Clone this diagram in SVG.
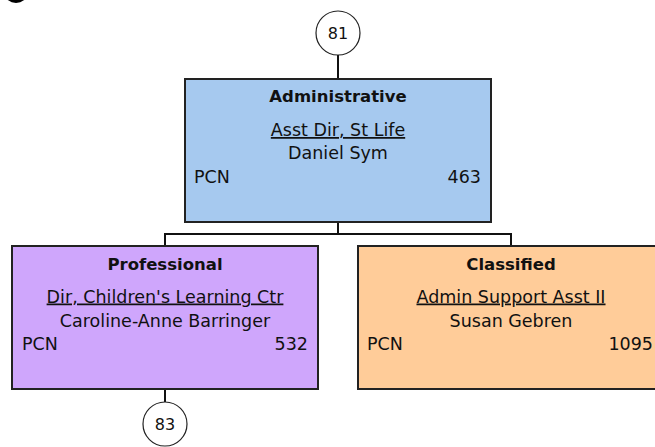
<svg xmlns="http://www.w3.org/2000/svg" width="655" height="447" viewBox="0 0 655 447">
<style>
.box{stroke:#222;stroke-width:2}
.c{fill:#fff;stroke:#222;stroke-width:1.2}
.ln{stroke:#111;stroke-width:2;fill:none}
text{font-family:"DejaVu Sans",Verdana,sans-serif;fill:#111}
.h{font-weight:bold;font-size:16.5px;text-anchor:middle}
.t{font-size:17.5px;text-anchor:middle;text-decoration:underline}
.n{font-size:17.5px;text-anchor:middle}
.p{font-size:17.5px}
.r{font-size:17.5px;text-anchor:end}
.cn{font-size:16px;text-anchor:middle}
</style>
<rect width="655" height="447" fill="#fff"/>
<ellipse cx="16" cy="-6" rx="11" ry="9" fill="#000"/>
<g id="connectors">
<path class="ln" d="M338 55V79M338 222V234M165 246V234H511V246M165 389V402"/>
</g>
<g id="top81">
<circle class="c" cx="338" cy="33" r="22"/>
<text class="cn" x="338" y="39">81</text>
</g>
<g id="admin">
<rect class="box" x="185" y="79" width="306" height="143" fill="#A6C9EF"/>
<text class="h" x="338" y="102">Administrative</text>
<text class="t" x="338" y="136">Asst Dir, St Life</text>
<text class="n" x="338" y="158.5">Daniel Sym</text>
<text class="p" x="194" y="183">PCN</text>
<text class="r" x="481" y="183">463</text>
</g>
<g id="professional">
<rect class="box" x="12" y="246" width="306" height="143" fill="#CFA6FC"/>
<text class="h" x="165" y="269.5">Professional</text>
<text class="t" x="165" y="302.5">Dir, Children's Learning Ctr</text>
<text class="n" x="165" y="327">Caroline-Anne Barringer</text>
<text class="p" x="22" y="350">PCN</text>
<text class="r" x="308" y="350">532</text>
</g>
<g id="classified">
<rect class="box" x="358" y="246" width="306" height="143" fill="#FFCC99"/>
<text class="h" x="511" y="269.5">Classified</text>
<text class="t" x="511" y="302.5">Admin Support Asst II</text>
<text class="n" x="511" y="327">Susan Gebren</text>
<text class="p" x="367" y="350">PCN</text>
<text class="r" x="653" y="350">1095</text>
</g>
<g id="bottom83">
<circle class="c" cx="165" cy="424" r="22"/>
<text class="cn" x="165" y="430">83</text>
</g>
</svg>
